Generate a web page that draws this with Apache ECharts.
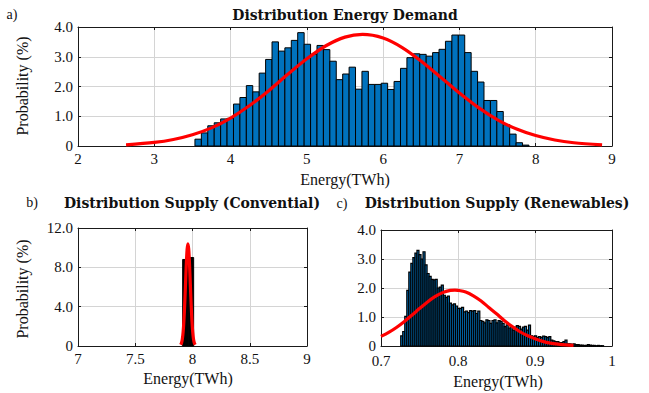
<!DOCTYPE html>
<html>
<head>
<meta charset="utf-8">
<script src="https://cdn.jsdelivr.net/npm/echarts@6/dist/echarts.min.js"></script>
<style>
  html, body { margin: 0; padding: 0; background: #fff; }
  #chart { width: 649px; height: 393px; }
</style>
</head>
<body>
<div id="chart"></div>
<script>
// ---- Energy demand histogram (%) ----
const demandBinLo = 3.533;
const demandBinW = 0.0842;
const demandPct = [
  0.23, 0.44, 0.68, 0.78, 0.91, 0.93, 1.41, 1.63, 2.03, 1.82,
  2.45, 2.91, 3.50, 3.19, 3.30, 3.55, 3.81, 3.42, 3.08, 3.38,
  3.24, 2.85, 2.23, 2.42, 2.65, 1.91, 2.51, 2.07, 2.07, 2.11,
  1.90, 2.17, 2.61, 2.97, 3.10, 3.08, 3.02, 3.14, 3.25, 3.52,
  3.73, 3.73, 3.14, 2.51, 2.15, 1.53, 1.53, 1.16, 0.72, 0.40,
  0.11, 0.03
];
// fitted normal curve for demand
const demandFitX = [2.63, 3.0, 3.25, 3.5, 3.75, 4.0, 4.25, 4.5, 4.75, 5.0, 5.25, 5.5, 5.73,
  6.0, 6.25, 6.5, 6.75, 7.0, 7.25, 7.5, 7.75, 8.0, 8.25, 8.5, 8.87];
const demandFitY = [0.04, 0.12, 0.22, 0.38, 0.61, 0.94, 1.36, 1.86, 2.41, 2.93, 3.37, 3.66, 3.75,
  3.63, 3.31, 2.85, 2.32, 1.78, 1.29, 0.88, 0.57, 0.35, 0.20, 0.11, 0.04];

// ---- Conventional supply histogram (%) ----
const convEdges = [7.914, 7.962, 8.010];
const convPct = [8.8, 9.0];
const convFitX = [7.897, 7.904, 7.911, 7.918, 7.925, 7.932, 7.939, 7.946, 7.953, 7.960,
  7.967, 7.974, 7.981, 7.988, 7.995, 8.002, 8.009, 8.016, 8.023];
const convFitY = [0.12, 0.30, 0.68, 1.41, 2.59, 4.27, 6.31, 8.33, 9.84, 10.4,
  9.84, 8.33, 6.31, 4.27, 2.59, 1.41, 0.68, 0.30, 0.12];

// ---- Renewable supply histogram (%) ----
const renewBinLo = 0.7256;
const renewBinW = 0.002634;
const renewPct = [
  0.35, 0.50, 1.02, 1.92, 2.55, 2.85, 3.05, 3.20, 3.30, 3.15,
  3.00, 3.25, 2.80, 2.50, 2.40, 2.30, 2.28, 2.30, 2.00, 2.03,
  2.10, 1.75, 1.68, 1.72, 1.48, 1.42, 1.45, 1.38, 1.30, 1.30,
  1.33, 1.18, 1.20, 1.15, 1.22, 1.20, 1.22, 1.12, 1.20, 0.88,
  0.85, 0.80, 0.90, 0.88, 0.78, 0.88, 0.90, 0.80, 0.88, 0.85,
  0.78, 0.67, 0.73, 0.62, 0.68, 0.55, 0.65, 0.70, 0.68, 0.58,
  0.65, 0.68, 0.55, 0.72, 0.35, 0.33, 0.35, 0.30, 0.32, 0.30,
  0.34, 0.32, 0.29, 0.32, 0.20, 0.18, 0.15, 0.15, 0.12, 0.12,
  0.15, 0.20, 0.07, 0.07, 0.06, 0.07, 0.05, 0.05, 0.03, 0.03,
  0.02, 0.02, 0.05, 0.03, 0.02, 0.02, 0.01, 0.02, 0.01, 0.01
];
const renewFitX = [0.70, 0.71, 0.72, 0.73, 0.74, 0.75, 0.76, 0.77, 0.78, 0.79, 0.796,
  0.80, 0.81, 0.82, 0.83, 0.84, 0.85, 0.86, 0.87, 0.88, 0.89, 0.90, 0.91, 0.92, 0.93, 0.94, 0.95];
const renewFitY = [0.33, 0.47, 0.64, 0.84, 1.06, 1.29, 1.51, 1.70, 1.84, 1.92, 1.93,
  1.92, 1.86, 1.73, 1.55, 1.33, 1.11, 0.88, 0.68, 0.50, 0.36, 0.25, 0.16, 0.10, 0.063, 0.037, 0.021];

// ---- tick labels ----
const demandXTicks = [2, 3, 4, 5, 6, 7, 8, 9];
const pctTicks4 = ['0', '1.0', '2.0', '3.0', '4.0'];
const convXTicks = ['7', '7.5', '8', '8.5', '9'];
const pctTicks12 = ['0', '4.0', '8.0', '12.0'];
const renewXTicks = ['0.7', '0.8', '0.9', '1'];

const BLUE = '#0072BD';
const RED = '#ff0000';
const SERIF = '"Liberation Serif", "DejaVu Serif", serif';
const BOLD = 'bold 14px "DejaVu Serif", serif';

function binsFromRegular(lo, w, vals) {
  return vals.map((v, i) => [lo + i * w, lo + (i + 1) * w, v]);
}
function binsFromEdges(edges, vals) {
  return vals.map((v, i) => [edges[i], edges[i + 1], v]);
}
function pairs(xs, ys) { return xs.map((x, i) => [x, ys[i]]); }

function histRenderer(lineWidth) {
  return function (params, api) {
    const p0 = api.coord([api.value(0), api.value(2)]);
    const p1 = api.coord([api.value(1), 0]);
    return {
      type: 'rect',
      shape: { x: p0[0], y: p0[1], width: p1[0] - p0[0], height: p1[1] - p0[1] },
      style: { fill: api.visual('color'), stroke: '#000', lineWidth: lineWidth }
    };
  };
}

const gridLine = { show: true, lineStyle: { color: '#d4d4d4', width: 1 } };
const axisLine = { show: true, onZero: false, lineStyle: { color: '#1a1a1a', width: 1 } };
const tickIn = { show: true, inside: true, length: 3, lineStyle: { color: '#1a1a1a' } };
const labelFont = { fontFamily: SERIF, fontSize: 15, color: '#111' };

function xMain(grid, min, max, interval, fmt, margin) {
  return {
    type: 'value', gridIndex: grid, min, max, interval, position: 'bottom',
    axisLine, axisTick: tickIn, splitLine: gridLine,
    axisLabel: Object.assign({ margin: margin, formatter: fmt }, labelFont)
  };
}
function xMirror(grid, min, max, interval) {
  return {
    type: 'value', gridIndex: grid, min, max, interval, position: 'top',
    axisLine, axisTick: tickIn, splitLine: { show: false }, axisLabel: { show: false }
  };
}
function yMain(grid, min, max, interval, fmt) {
  return {
    type: 'value', gridIndex: grid, min, max, interval, position: 'left',
    axisLine, axisTick: tickIn, splitLine: gridLine,
    axisLabel: Object.assign({ margin: 5, formatter: fmt }, labelFont)
  };
}
function yMirror(grid, min, max, interval) {
  return {
    type: 'value', gridIndex: grid, min, max, interval, position: 'right',
    axisLine, axisTick: tickIn, splitLine: { show: false }, axisLabel: { show: false }
  };
}

const fmtDemandX = v => String(demandXTicks[Math.round(v - demandXTicks[0])]);
const fmtPct4 = v => pctTicks4[Math.round(v)];
const fmtConvX = v => convXTicks[Math.round((v - 7) * 2)];
const fmtPct12 = v => pctTicks12[Math.round(v / 4)];
const fmtRenewX = v => renewXTicks[Math.round((v - 0.7) * 10)];

function txt(text, x, y, font, rot) {
  const el = {
    type: 'text', x, y,
    style: { text, font, fill: '#111', textAlign: 'center', textVerticalAlign: 'middle' }
  };
  if (rot) el.rotation = rot;
  return el;
}

const chart = echarts.init(document.getElementById('chart'), null, { renderer: 'svg' });
chart.setOption({
  backgroundColor: '#fff',
  animation: false,
  grid: [
    { left: 78, top: 27, width: 534, height: 119 },
    { left: 78, top: 228, width: 229, height: 118 },
    { left: 381, top: 230, width: 231, height: 116 }
  ],
  xAxis: [
    xMain(0, 2, 9, 1, fmtDemandX, 5),
    xMain(1, 7, 9, 0.5, fmtConvX, 5),
    xMain(2, 0.7, 1, 0.1, fmtRenewX, 7),
    xMirror(0, 2, 9, 1),
    xMirror(1, 7, 9, 0.5),
    xMirror(2, 0.7, 1, 0.1)
  ],
  yAxis: [
    yMain(0, 0, 4, 1, fmtPct4),
    yMain(1, 0, 12, 4, fmtPct12),
    yMain(2, 0, 4, 1, fmtPct4),
    yMirror(0, 0, 4, 1),
    yMirror(1, 0, 12, 4),
    yMirror(2, 0, 4, 1)
  ],
  series: [
    {
      type: 'custom', xAxisIndex: 0, yAxisIndex: 0,
      itemStyle: { color: BLUE },
      renderItem: histRenderer(1),
      encode: { x: [0, 1], y: 2 },
      data: binsFromRegular(demandBinLo, demandBinW, demandPct)
    },
    {
      type: 'line', xAxisIndex: 0, yAxisIndex: 0, smooth: 0.3, showSymbol: false,
      lineStyle: { color: RED, width: 3.2 }, z: 5,
      data: pairs(demandFitX, demandFitY)
    },
    {
      type: 'custom', xAxisIndex: 1, yAxisIndex: 1,
      itemStyle: { color: '#000' },
      renderItem: histRenderer(1),
      encode: { x: [0, 1], y: 2 },
      data: binsFromEdges(convEdges, convPct)
    },
    {
      type: 'line', xAxisIndex: 1, yAxisIndex: 1, smooth: 0.3, showSymbol: false,
      lineStyle: { color: RED, width: 3.2 }, z: 5,
      data: pairs(convFitX, convFitY)
    },
    {
      type: 'custom', xAxisIndex: 2, yAxisIndex: 2,
      itemStyle: { color: BLUE },
      renderItem: histRenderer(1.2),
      encode: { x: [0, 1], y: 2 },
      data: binsFromRegular(renewBinLo, renewBinW, renewPct)
    },
    {
      type: 'line', xAxisIndex: 2, yAxisIndex: 2, smooth: 0.3, showSymbol: false,
      lineStyle: { color: RED, width: 3.2 }, z: 5,
      data: pairs(renewFitX, renewFitY)
    }
  ],
  graphic: [
    txt('a)', 12, 14, '14px ' + SERIF),
    txt('Distribution Energy Demand', 345, 15, BOLD),
    txt('Probability (%)', 22, 86, '16px ' + SERIF, Math.PI / 2),
    txt('Energy(TWh)', 345, 179, '16px ' + SERIF),
    txt('b)', 32, 202, '14px ' + SERIF),
    txt('Distribution Supply (Convential)', 192, 203, BOLD),
    txt('Probability (%)', 22, 289, '16px ' + SERIF, Math.PI / 2),
    txt('Energy(TWh)', 188, 378, '16px ' + SERIF),
    txt('c)', 342, 203, '14px ' + SERIF),
    txt('Distribution Supply (Renewables)', 497, 203, BOLD),
    txt('Energy(TWh)', 498, 381, '16px ' + SERIF)
  ]
});
</script>
</body>
</html>
